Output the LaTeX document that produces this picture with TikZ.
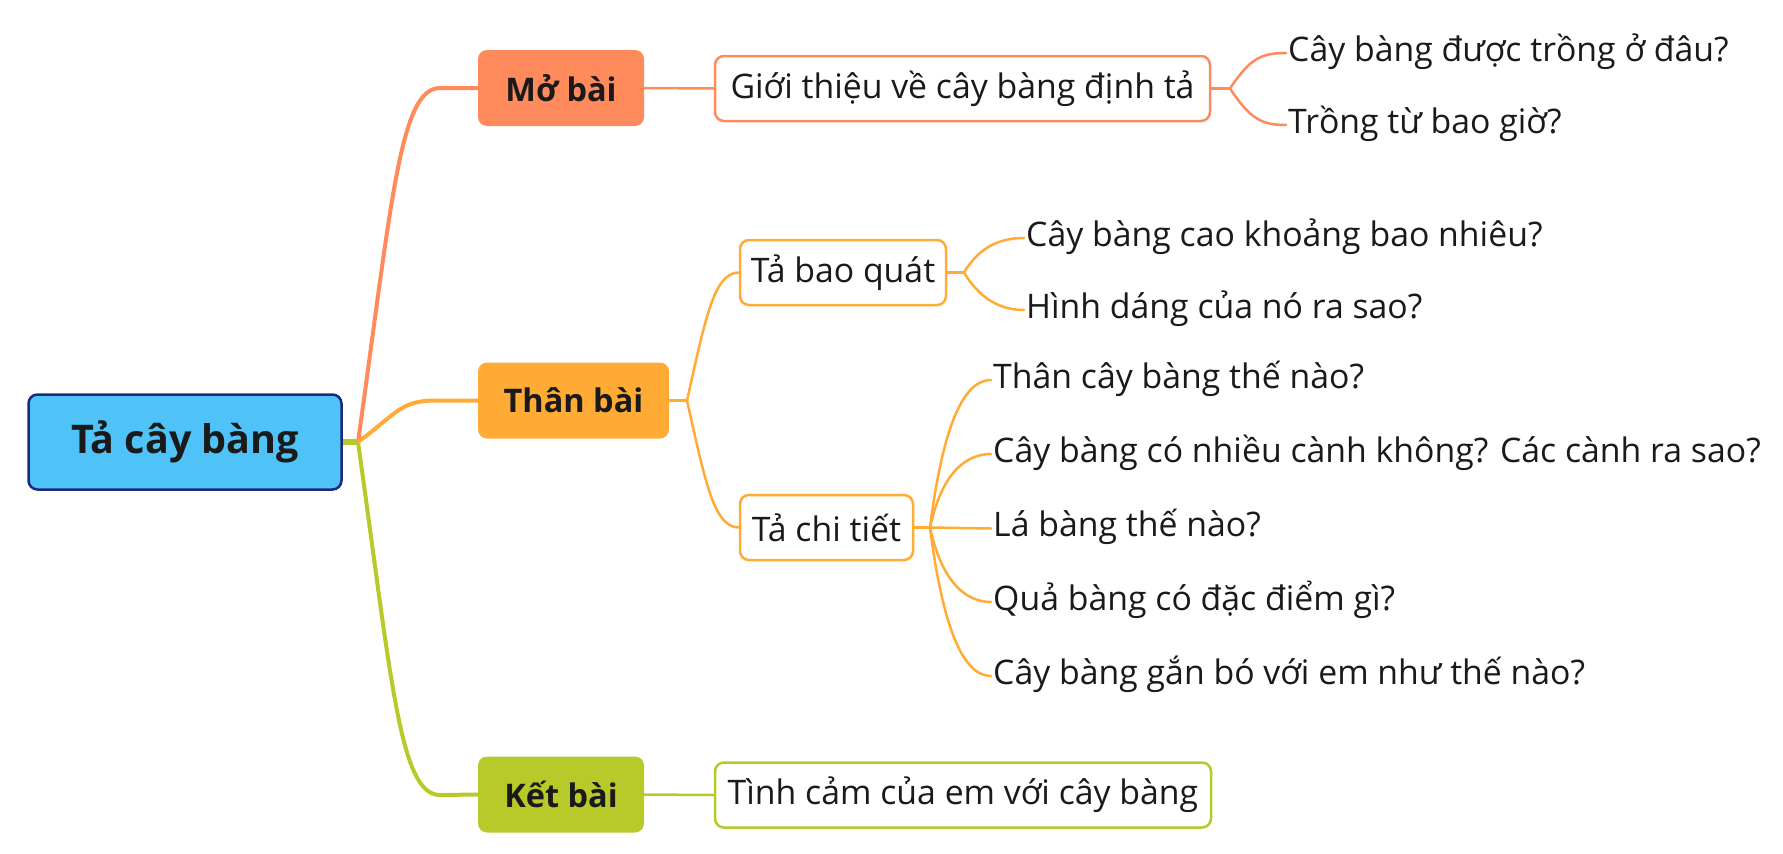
\documentclass[tikz,border=0pt]{standalone}
\usepackage{fontspec}
\setmainfont{Open Sans}
\usetikzlibrary{calc}
\definecolor{coral}{HTML}{FF8A5B}
\definecolor{amber}{HTML}{FFAB36}
\definecolor{lime}{HTML}{B8CA2A}
\definecolor{sky}{HTML}{4FC3F7}
\definecolor{navy}{HTML}{1B2A7D}
\definecolor{ink}{HTML}{1A1A1A}
\begin{document}
\begin{tikzpicture}[x=1pt,y=-1pt,
 rootbox/.style={draw=navy, line width=2.5pt, fill=sky, rounded corners=9pt, minimum width=313pt, minimum height=95pt, font=\fontsize{39.5}{44}\selectfont\bfseries, text=ink, inner sep=0pt},
 mainbox/.style={rounded corners=9pt, minimum height=76pt, font=\fontsize{32.5}{36}\selectfont\bfseries, text=ink, inner sep=0pt},
 subbox/.style={draw=#1, fill=white, line width=2.5pt, rounded corners=9pt, minimum height=65pt, font=\fontsize{33.8}{37}\selectfont, text=ink, inner sep=0pt},
 leaf/.style={anchor=west, font=\fontsize{33.8}{37}\selectfont, text=ink, inner xsep=2pt, inner ysep=0pt, text height=24pt, text depth=8pt},
 trunk/.style={line width=4pt, draw=#1, line cap=round},
 twig/.style={line width=2.5pt, draw=#1, line cap=round},
]
\useasboundingbox (0,0) rectangle (1783,854);
\fill[white] (0,0) rectangle (1783,854);

% nodes
\node[rootbox] (root) at (185,442) {Tả cây bàng};
\node[mainbox, fill=coral, minimum width=166pt] (mo) at (561,88) {Mở bài};
\node[mainbox, fill=amber, minimum width=191pt] (than) at (573.5,400.5) {Thân bài};
\node[mainbox, fill=lime, minimum width=166pt] (ket) at (561,794.5) {Kết bài};
\node[subbox=coral, minimum width=495pt] (gt) at (962.5,88.5) {Giới thiệu về cây bàng định tả\hspace{14pt}};
\node[subbox=amber, minimum width=206pt] (bq) at (843,272.5) {Tả bao quát};
\node[subbox=amber, minimum width=173pt] (ct) at (826.5,527.5) {Tả chi tiết};
\node[subbox=lime, minimum width=496pt] (tc) at (963,795) {Tình cảm của em với cây bàng};

\node[leaf] (m1) at (1286,53) {Cây bàng được trồng ở đâu?};
\node[leaf] (m2) at (1286,125) {Trồng từ bao giờ?};
\node[leaf] (b1) at (1024,238) {Cây bàng cao khoảng bao nhiêu?};
\node[leaf] (b2) at (1024,310) {Hình dáng của nó ra sao?};
\node[leaf] (c1) at (991,380) {Thân cây bàng thế nào?};
\node[leaf] (c2) at (991,454) {Cây bàng có nhiều cành không? Các cành ra sao?};
\node[leaf] (c3) at (991,528.5) {Lá bàng thế nào?};
\node[leaf] (c4) at (991,602) {Quả bàng có đặc điểm gì?};
\node[leaf] (c5) at (991,676) {Cây bàng gắn bó với em như thế nào?};

% trunk connectors
\coordinate (rj) at (358,442);
\draw[trunk=coral] (rj) .. controls (392,200) and (400,88) .. (440,88) -- (mo.west);
\draw[trunk=lime] (rj) .. controls (392,684) and (400,795) .. (440,795) -- (ket.west);
\draw[trunk=amber] (rj) .. controls (395,415) and (400,400.5) .. (435,400.5) -- (than.west);
\draw[lime, line width=6pt] (root.east) -- (rj);

% Mo bai
\coordinate (gj) at (1230,88.5);
\draw[twig=coral] (mo.east) -- (gt.west);
\draw[twig=coral] (gt.east) -- (gj);
\draw[twig=coral] (gj) .. controls +(20,-30) and +(-25,0) .. (m1.west);
\draw[twig=coral] (gj) .. controls +(20,30) and +(-25,0) .. (m2.west);

% Than bai
\coordinate (tj) at (687,400.5);
\draw[twig=amber] (than.east) -- (tj);
\draw[twig=amber] (tj) .. controls +(18,-80) and +(-25,0) .. (bq.west);
\draw[twig=amber] (tj) .. controls +(18,80) and +(-25,0) .. (ct.west);

\coordinate (bj) at (964,272.5);
\draw[twig=amber] (bq.east) -- (bj);
\draw[twig=amber] (bj) .. controls +(15,-25) and +(-25,0) .. (b1.west);
\draw[twig=amber] (bj) .. controls +(15,25) and +(-25,0) .. (b2.west);

\coordinate (cj) at (930,527.5);
\draw[twig=amber] (ct.east) -- (cj);
\draw[twig=amber] (cj) .. controls +(14,-110) and +(-25,0) .. (c1.west);
\draw[twig=amber] (cj) .. controls +(12,-55) and +(-25,0) .. (c2.west);
\draw[twig=amber] (cj) -- (c3.west);
\draw[twig=amber] (cj) .. controls +(12,55) and +(-25,0) .. (c4.west);
\draw[twig=amber] (cj) .. controls +(14,110) and +(-25,0) .. (c5.west);

% Ket bai
\draw[twig=lime] (ket.east) -- (tc.west);
\end{tikzpicture}
\end{document}
